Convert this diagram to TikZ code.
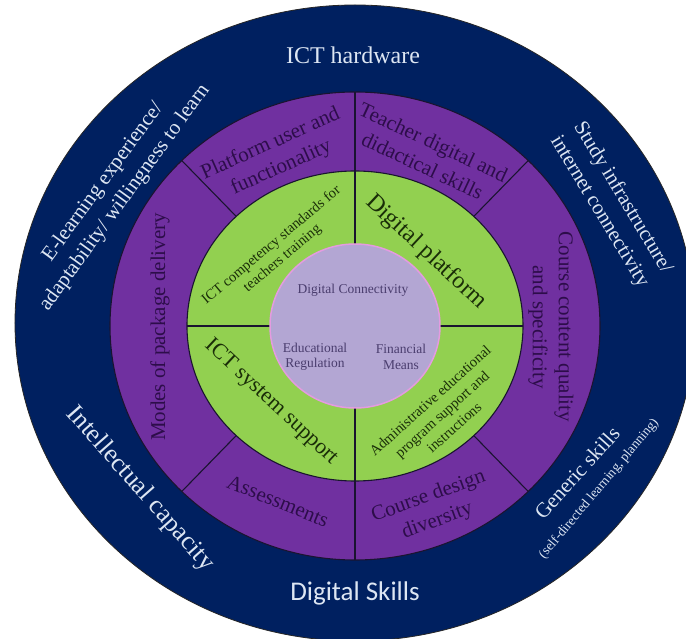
\documentclass[tikz,border=0pt]{standalone}
\usepackage{fontspec}
\setmainfont{Liberation Serif}
\newfontfamily\skillsfont{Carlito}
\definecolor{navy}{HTML}{002060}
\definecolor{ringpurple}{HTML}{7030A0}
\definecolor{ringgreen}{HTML}{92D050}
\definecolor{corelilac}{HTML}{B3A6D3}
\definecolor{coreedge}{HTML}{E49BE0}
\definecolor{linecol}{HTML}{1A1430}
\definecolor{lighttext}{HTML}{DDE6F3}
\definecolor{purpletext}{HTML}{2D0D4A}
\definecolor{greentext}{HTML}{1A2E08}
\definecolor{coretext}{HTML}{4A3D6E}
\tikzset{
    outerlabel/.style={text=lighttext, align=center, inner sep=0pt},
    ringlabel/.style={text=purpletext, align=center, inner sep=0pt, font=\rmfamily\fontsize{21}{26}\selectfont},
    greenlabel/.style={text=greentext, align=center, inner sep=0pt},
    corelabel/.style={text=coretext, align=center, inner sep=0pt, font=\rmfamily\fontsize{13.5}{15.5}\selectfont},
    divider/.style={draw=linecol, line width=1.1pt},
  }

\begin{document}
\begin{tikzpicture}[x=1pt,y=1pt]
          %cadre 686x639, centre O au pixel (355,326)
          %point d'ellipse (\a:rx and ry)
          \useasboundingbox (-355,-313) rectangle (331,326);
          \clip (-355,-313) rectangle (331,326);
          \fill[white] (-355,-313) rectangle (331,326);
          \coordinate (O) at (0,0);
          \filldraw[fill=navy, draw=black!85, line width=0.8pt] (0,3) ellipse (340 and 318);
          \filldraw[fill=ringpurple, divider] (O) ellipse (245 and 234);
          \filldraw[fill=ringgreen, divider] (O) ellipse (168 and 155);
          \foreach \a in {45,90,135,225,270,315}
            \draw[divider] (\a:168 and 155) -- (\a:245 and 234);
          \foreach \a in {0,90,180,270}
            \draw[divider] (\a:84 and 81) -- (\a:168 and 155);
          \filldraw[fill=corelilac, draw=coreedge, line width=1.5pt] (O) ellipse (85 and 82);
          %anneau exterieur
          \node[outerlabel, font=\rmfamily\fontsize{24}{26}\selectfont] (hardware) at (-2,271) {ICT hardware};
          \node[outerlabel, font=\skillsfont\fontsize{27}{29}\selectfont] (dskills) at (0,-267) {Digital Skills};
          \node[outerlabel, font=\rmfamily\fontsize{21}{27}\selectfont, rotate=54] (elearn) at (-241,136)
               {E-learning experience/\\adaptability/ willingness to learn};
          \node[outerlabel, font=\rmfamily\fontsize{21}{27}\selectfont, rotate=-59] (infra) at (256,121)
               {Study infrastructure/\\internet connectivity};
          \node[outerlabel, font=\rmfamily\fontsize{26}{28}\selectfont, rotate=-48.6] (intellect) at (-215,-163) {Intellectual capacity};
          \node[outerlabel, font=\rmfamily\fontsize{21}{23}\selectfont, rotate=48] (generic) at (222,-147) {Generic skills};
          \node[outerlabel, font=\rmfamily\fontsize{13.5}{15}\selectfont, rotate=50] (genericsub) at (244,-163)
               {(self-directed learning, planning)};
          %anneau violet
          \node[ringlabel, rotate=24] (platform) at (-79,170) {Platform user and\\functionality};
          \node[ringlabel, rotate=-25] (teacher) at (73,172) {Teacher digital and\\didactical skills};
          \node[ringlabel, rotate=90] (modes) at (-195,-1) {Modes of package delivery};
          \node[ringlabel, rotate=-90] (content) at (196,-1) {Course content quality\\and specificity};
          \node[ringlabel, rotate=-22] (assess) at (-77,-175) {Assessments};
          \node[ringlabel, rotate=20] (design) at (78,-183) {Course design\\diversity};
          %anneau vert
          \node[greenlabel, font=\rmfamily\fontsize{14.5}{17}\selectfont, rotate=40] (ictstd) at (-78,74)
               {ICT competency standards for\\teachers training};
          \node[greenlabel, font=\rmfamily\fontsize{24}{26}\selectfont, rotate=-43] (dplatform) at (71,74) {Digital platform};
          \node[greenlabel, font=\rmfamily\fontsize{22}{24}\selectfont, rotate=-43] (ictsys) at (-84,-76) {ICT system support};
          \node[greenlabel, font=\rmfamily\fontsize{14.5}{18}\selectfont, rotate=42] (admin) at (87,-88)
               {Administrative educational\\program support and\\instructions};
          %coeur
          \node[corelabel] (connect) at (-2,36) {Digital Connectivity};
          \node[corelabel] (edureg) at (-40,-31) {Educational\\Regulation};
          \node[corelabel] (finance) at (46,-31) {Financial\\Means};
\end{tikzpicture}
\end{document}
